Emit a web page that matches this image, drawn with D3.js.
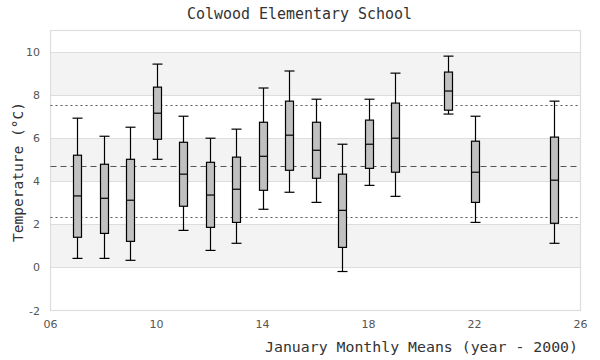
<!DOCTYPE html>
<html><head><meta charset="utf-8">
<script src="https://cdn.jsdelivr.net/npm/d3@7"></script>
<style>body{margin:0;background:#fff}svg{display:block}</style>
</head><body><svg id="c" width="600" height="360"></svg>
<script>
const years   = [7, 8, 9, 10, 11, 12, 13, 14, 15, 16, 17, 18, 19, 21, 22, 25];
const whiskLo = [0.42, 0.42, 0.33, 5.02, 1.72, 0.79, 1.12, 2.70, 3.49, 3.02, -0.19, 3.81, 3.30, 7.12, 2.09, 1.12];
const q1      = [1.40, 1.58, 1.21, 5.95, 2.84, 1.86, 2.09, 3.58, 4.51, 4.14, 0.93, 4.60, 4.42, 7.30, 3.02, 2.05];
const median  = [3.32, 3.21, 3.12, 7.16, 4.33, 3.36, 3.63, 5.16, 6.14, 5.44, 2.65, 5.72, 6.00, 8.19, 4.42, 4.05];
const q3      = [5.21, 4.79, 5.02, 8.37, 5.81, 4.88, 5.12, 6.74, 7.72, 6.74, 4.33, 6.84, 7.63, 9.07, 5.86, 6.05];
const whiskHi = [6.93, 6.09, 6.51, 9.44, 7.02, 6.00, 6.42, 8.33, 9.12, 7.81, 5.72, 7.81, 9.02, 9.81, 7.02, 7.72];
const refDotted = [7.53, 2.33];
const refDashed = [4.70];
const xTicks = [6, 10, 14, 18, 22, 26];
const yTicks = [-2, 0, 2, 4, 6, 8, 10];
const bands = [[0, 2], [4, 6], [8, 10]];

const svg = d3.select("#c");
const L = 50.5, R = 580.5, T = 30.5, B = 310.5;
const x = d3.scaleLinear().domain([6, 26]).range([L, R]);
const y = d3.scaleLinear().domain([-2, 11]).range([B, T]);

// bands
svg.selectAll("rect.band").data(bands).enter().append("rect")
  .attr("x", L).attr("width", R - L)
  .attr("y", d => y(d[1])).attr("height", d => y(d[0]) - y(d[1]))
  .attr("fill", "#f3f3f3");
// grid
svg.selectAll("line.grid").data(yTicks.filter(v => v > -2)).enter().append("line")
  .attr("x1", L).attr("x2", R).attr("y1", d => Math.round(y(d)) + 0.5).attr("y2", d => Math.round(y(d)) + 0.5)
  .attr("stroke", "#dddddd").attr("stroke-width", 1);
// border
svg.append("rect").attr("x", L).attr("y", T).attr("width", R - L).attr("height", B - T)
  .attr("fill", "none").attr("stroke", "#dddddd").attr("stroke-width", 1.2);

// reference lines
svg.selectAll("line.dot").data(refDotted).enter().append("line")
  .attr("x1", L).attr("x2", R).attr("y1", d => Math.round(y(d)) + 0.5).attr("y2", d => Math.round(y(d)) + 0.5)
  .attr("stroke", "#555").attr("stroke-width", 1).attr("stroke-dasharray", "2,3");
svg.selectAll("line.dash").data(refDashed).enter().append("line")
  .attr("x1", L).attr("x2", R).attr("y1", d => Math.round(y(d)) + 0.5).attr("y2", d => Math.round(y(d)) + 0.5)
  .attr("stroke", "#555").attr("stroke-width", 1).attr("stroke-dasharray", "6,4");

// boxes
const bw = 8;
const g = svg.append("g");
years.forEach((yr, i) => {
  const cx = Math.round(x(yr)) + 0.5;
  const gg = g.append("g").attr("stroke", "#000").attr("stroke-width", 1.2);
  gg.append("line").attr("x1", cx).attr("x2", cx).attr("y1", y(whiskLo[i])).attr("y2", y(whiskHi[i]));
  gg.append("line").attr("x1", cx - bw/2 - 1).attr("x2", cx + bw/2 + 1).attr("y1", y(whiskHi[i])).attr("y2", y(whiskHi[i]));
  gg.append("line").attr("x1", cx - bw/2 - 1).attr("x2", cx + bw/2 + 1).attr("y1", y(whiskLo[i])).attr("y2", y(whiskLo[i]));
  gg.append("rect").attr("x", cx - bw/2).attr("width", bw)
    .attr("y", y(q3[i])).attr("height", y(q1[i]) - y(q3[i])).attr("fill", "#c0c0c0");
  gg.append("line").attr("x1", cx - bw/2).attr("x2", cx + bw/2).attr("y1", y(median[i])).attr("y2", y(median[i]));
});

// axes labels
const fmt = d3.format("02d");
svg.selectAll("text.xt").data(xTicks).enter().append("text")
  .attr("x", d => x(d)).attr("y", 328).attr("text-anchor", "middle")
  .attr("font-family", "DejaVu Sans, sans-serif").attr("font-size", 11).attr("fill", "#555")
  .text(d => fmt(d));
svg.selectAll("text.yt").data(yTicks).enter().append("text")
  .attr("x", 40).attr("y", d => y(d) + 4).attr("text-anchor", "end")
  .attr("font-family", "DejaVu Sans, sans-serif").attr("font-size", 11).attr("fill", "#555")
  .text(d => d);

svg.append("text").attr("x", 187).attr("y", 19)
  .attr("font-family", "DejaVu Sans Mono, monospace").attr("font-size", 15).attr("fill", "#333")
  .attr("textLength", 225).attr("lengthAdjust", "spacingAndGlyphs")
  .text("Colwood Elementary School");
svg.append("text").attr("x", 265).attr("y", 352)
  .attr("font-family", "DejaVu Sans Mono, monospace").attr("font-size", 14.5).attr("fill", "#333")
  .attr("textLength", 313).attr("lengthAdjust", "spacingAndGlyphs")
  .text("January Monthly Means (year - 2000)");
svg.append("text").attr("transform", "translate(23,242) rotate(-90)")
  .attr("font-family", "DejaVu Sans Mono, monospace").attr("font-size", 14.5).attr("fill", "#333")
  .attr("textLength", 140).attr("lengthAdjust", "spacingAndGlyphs")
  .text("Temperature (°C)");
</script></body></html>
